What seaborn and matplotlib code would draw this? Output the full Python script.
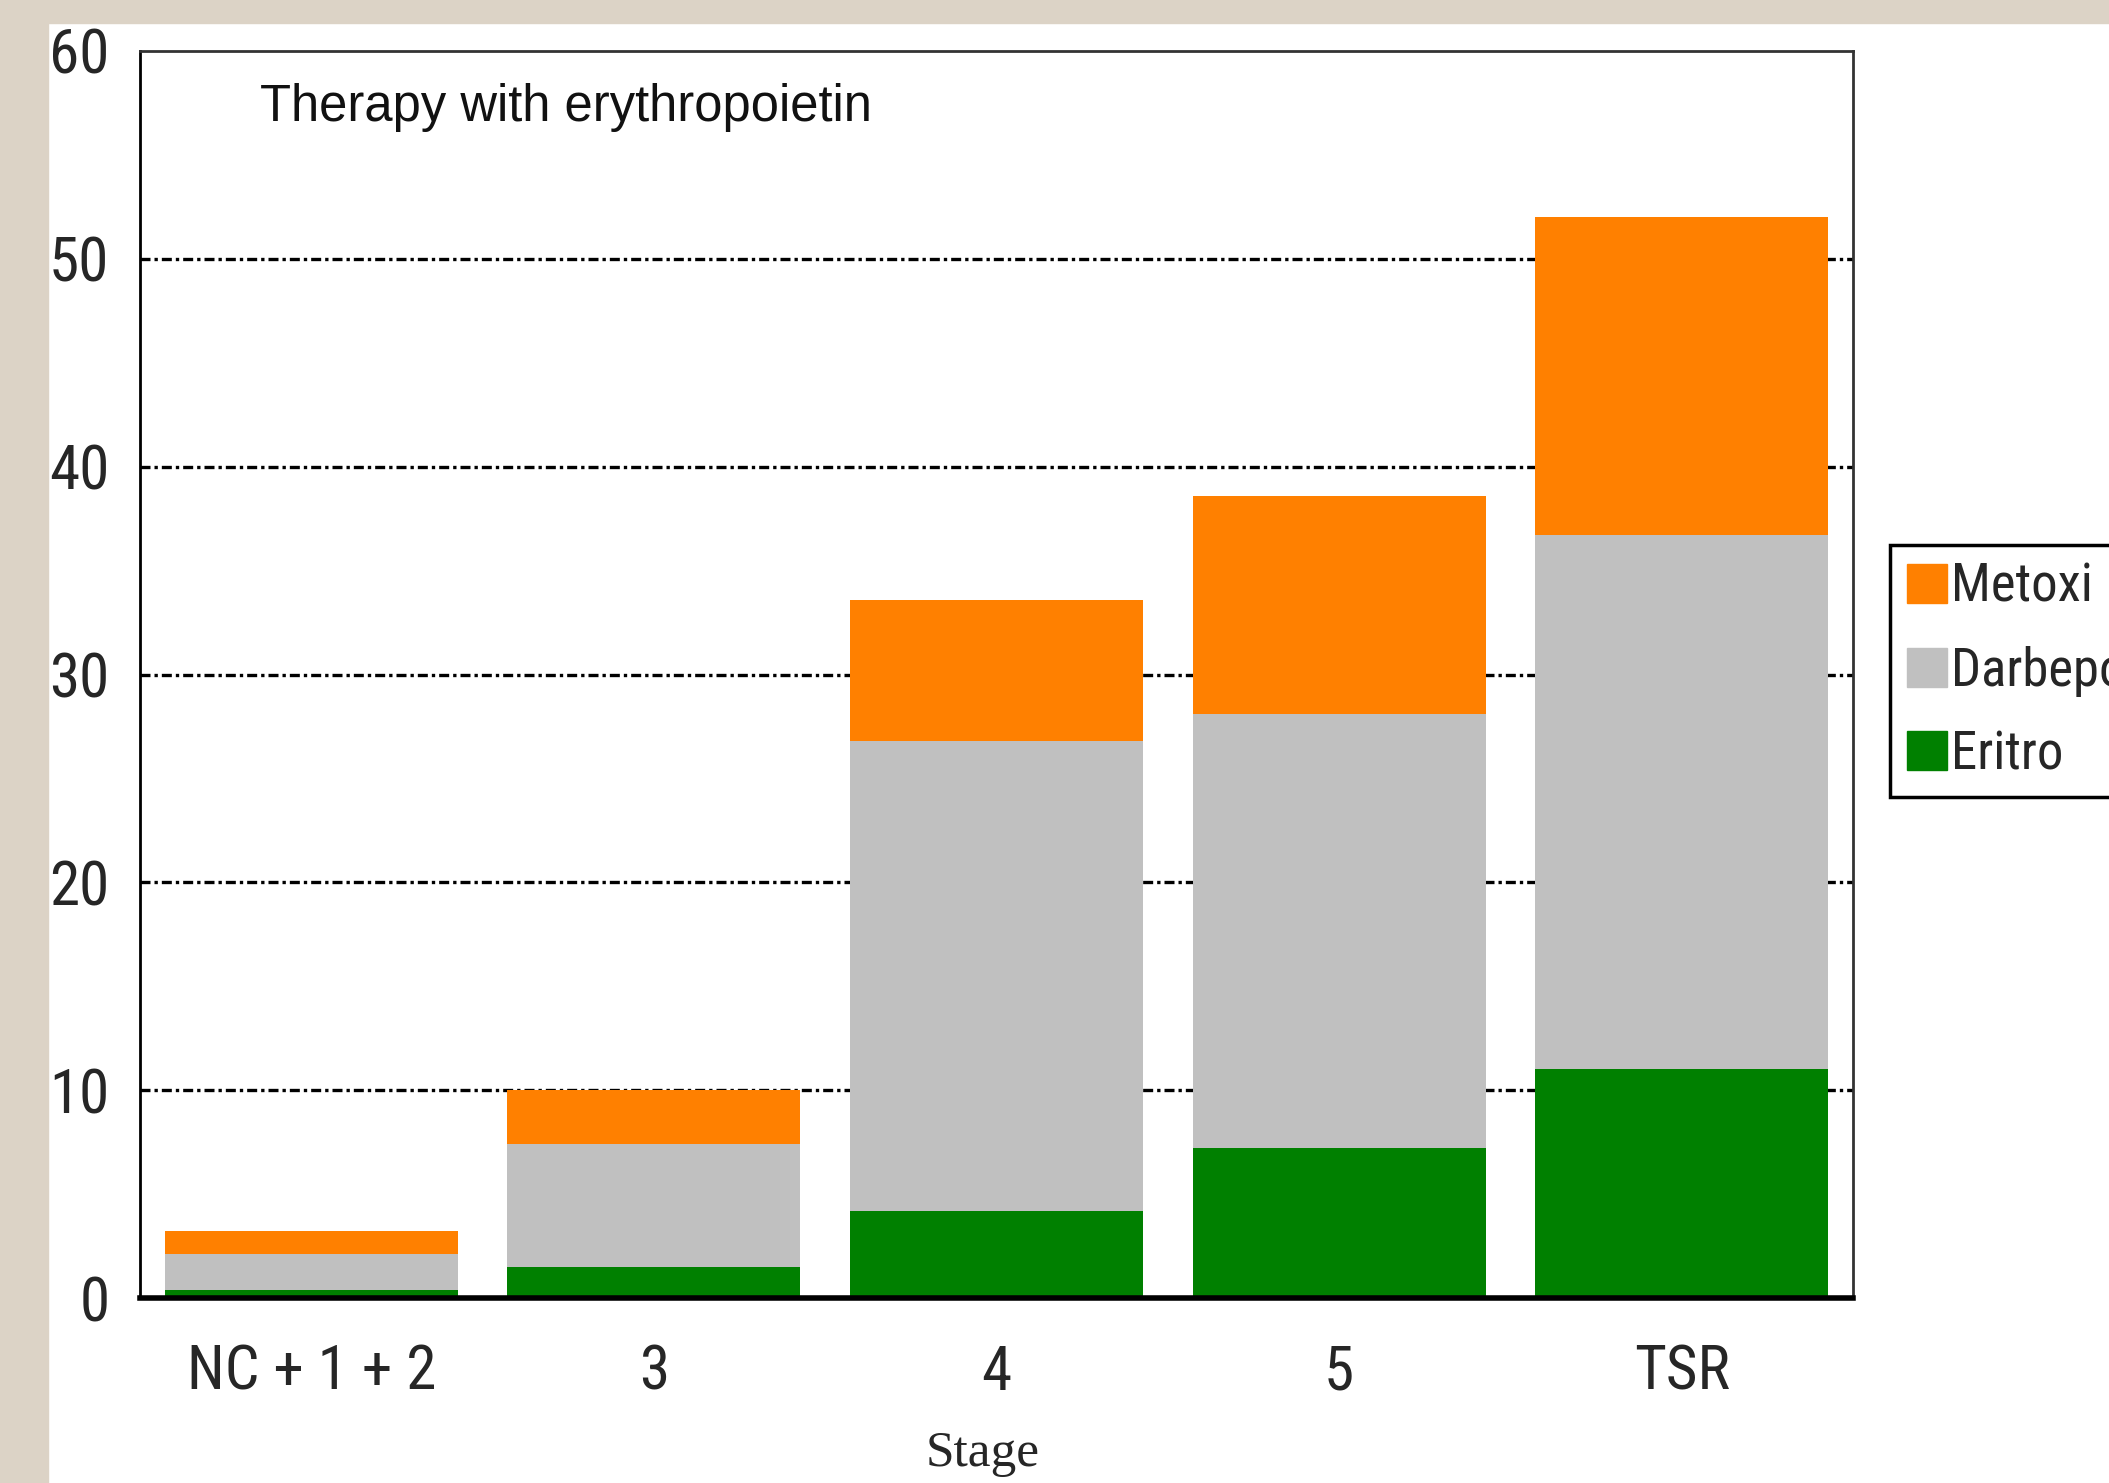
import numpy as np
import pandas as pd
import seaborn as sns
import matplotlib.pyplot as plt
from matplotlib.patches import Rectangle, Patch

# data
stages = ["NC + 1 + 2", "3", "4", "5", "TSR"]
eritro = [0.4, 1.5, 4.2, 7.2, 11.0]
darbepo = [1.7, 5.9, 22.6, 20.9, 25.7]
metoxi = [1.1, 2.6, 6.8, 10.5, 15.3]
yticks = [0, 10, 20, 30, 40, 50, 60]

orange = "#FF8000"
grey = "#C0C0C0"
green = "#008000"

sns.set_style("white")
# narrow sans for ticks / legend, like Arial Narrow in the original
plt.rcParams["font.family"] = ["Roboto Condensed", "Archivo Narrow", "PT Sans Narrow",
                               "DejaVu Sans"]
plt.rcParams["font.stretch"] = "condensed"

df = pd.DataFrame({"stage": stages, "eritro": eritro,
                   "darbepo": darbepo, "metoxi": metoxi})
df["lvl1"] = df["eritro"]
df["lvl2"] = df["eritro"] + df["darbepo"]
df["lvl3"] = df["lvl2"] + df["metoxi"]

W, H = 2109, 1483
fig = plt.figure(figsize=(W / 100, H / 100), dpi=100)
fig.patch.set_facecolor("white")

# textured beige border of the original screenshot (flat colour here)
bg = "#DCD3C6"
fig.patches.append(Rectangle((0, 0), 48 / W, 1, transform=fig.transFigure,
                             color=bg, zorder=-10))
fig.patches.append(Rectangle((0, 1 - 23 / H), 1, 23 / H, transform=fig.transFigure,
                             color=bg, zorder=-10))

ax = fig.add_axes([140 / W, 1 - 1298 / H, (1853 - 140) / W, (1298 - 51) / H])
ax.set_facecolor("white")

# stacked bars drawn as overlapping cumulative totals
for col, c in [("lvl3", orange), ("lvl2", grey), ("lvl1", green)]:
    sns.barplot(data=df, x="stage", y=col, color=c, width=0.855,
                saturation=1, linewidth=0, ax=ax, zorder=3)

ax.set_xlim(-0.5, 4.5)
ax.set_ylim(0, 60)
ax.set_yticks(yticks)
ax.set_yticklabels([str(v) for v in yticks])
for v in yticks[1:-1]:
    ax.axhline(v, color="black", lw=2.4, ls=(0, (3, 1.2, 1, 1.2)), zorder=1)

ax.tick_params(axis="both", length=0, labelsize=44)
ax.tick_params(axis="y", pad=22)
ax.tick_params(axis="x", pad=33)
ax.set_ylabel("")
ax.set_xlabel("")
fig.text(983 / W, 1 - 1454 / H, "Stage", family=["Liberation Serif", "DejaVu Serif"],
         fontstretch="normal", fontsize=37, ha="center", va="center")

for side in ["top", "right"]:
    ax.spines[side].set_color("#333333")
    ax.spines[side].set_linewidth(2)
ax.spines["left"].set_color("black")
ax.spines["left"].set_linewidth(2)
ax.spines["bottom"].set_color("black")
ax.spines["bottom"].set_linewidth(4)
for s in ax.spines.values():
    s.set_zorder(5)

ax.text(260 / W, 1 - 107 / H, "Therapy with erythropoietin",
        transform=fig.transFigure, family=["Liberation Sans", "DejaVu Sans"],
        fontstretch="normal", fontsize=36.5, va="center", ha="left", color="#111111")

handles = [Patch(color=orange), Patch(color=grey), Patch(color=green)]
leg = fig.legend(handles, ["Metoxi", "Darbepo", "Eritro"],
                 loc="upper left", bbox_to_anchor=(1890 / W, 1 - 545 / H),
                 fontsize=38, frameon=True, fancybox=False, framealpha=1,
                 edgecolor="black", handlelength=0.76, handleheight=0.76,
                 handletextpad=0.08, labelspacing=0.62, borderpad=0.32,
                 borderaxespad=0)
leg.get_frame().set_linewidth(2.5)

fig.savefig("out.png", dpi=100)
